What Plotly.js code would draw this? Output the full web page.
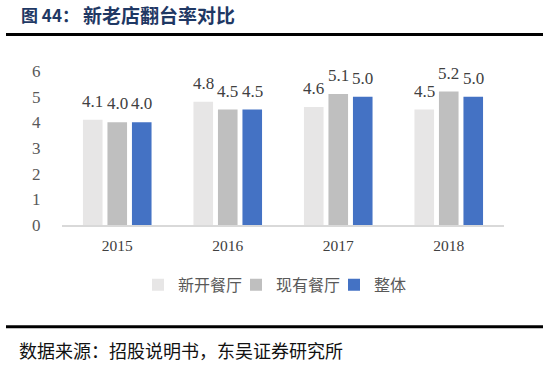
<!DOCTYPE html>
<html>
<head>
<meta charset="utf-8">
<script src="https://cdn.plot.ly/plotly-3.0.1.min.js"></script>
<style>html,body{margin:0;padding:0;background:#fff;}#chart{width:554px;height:365px;}</style>
</head>
<body>
<div id="chart"></div>
<script>
const years = ['2015', '2016', '2017', '2018'];
const seriesNames = ['新开餐厅', '现有餐厅', '整体'];
const newStores = [4.1, 4.8, 4.6, 4.5];
const existingStores = [4.0, 4.5, 5.1, 5.2];
const overall = [4.0, 4.5, 5.0, 5.0];
const yTicks = [0, 1, 2, 3, 4, 5, 6];
const titlePrefix = '图 44：';
const titleText = '新老店翻台率对比';
const sourceText = '数据来源：招股说明书，东吴证券研究所';

const colors = ['#e7e6e6', '#bfbfbf', '#4472c4'];
const allSeries = [newStores, existingStores, overall];
const serif = 'Liberation Serif, Times New Roman, serif';
const cjk = 'Noto Sans CJK SC, sans-serif';

const traces = allSeries.map((vals, i) => ({
  type: 'bar',
  name: seriesNames[i],
  x: years,
  y: vals,
  marker: {color: colors[i]},
  hoverinfo: 'skip'
}));

// pixel helpers for paper coords
const L = 62, R = 504, T = 70.5, B = 225;
const px = v => (v - L) / (R - L);
const py = v => (B - v) / (B - T);

const shifts = [-24.5, 0, 24.5];
const annotations = [];
allSeries.forEach((vals, i) => {
  vals.forEach((v, j) => {
    annotations.push({
      x: j, y: v, xref: 'x', yref: 'y',
      text: v.toFixed(1), showarrow: false,
      xanchor: 'center', yanchor: 'bottom',
      xshift: shifts[i], yshift: 7,
      font: {family: serif, size: 17, color: '#404040'}
    });
  });
});
annotations.push({
  xref: 'paper', yref: 'paper', x: px(19), y: py(14),
  xanchor: 'left', yanchor: 'middle', showarrow: false,
  text: '<b>' + titlePrefix + '</b>',
  font: {family: cjk, size: 17, color: '#1f3864'}
});
annotations.push({
  xref: 'paper', yref: 'paper', x: px(81), y: py(14),
  xanchor: 'left', yanchor: 'middle', showarrow: false,
  text: '<b>' + titleText + '</b>',
  font: {family: cjk, size: 19, color: '#1f3864'}
});
annotations.push({
  xref: 'paper', yref: 'paper', x: px(17), y: py(350),
  xanchor: 'left', yanchor: 'middle', showarrow: false,
  text: sourceText,
  font: {family: cjk, size: 18, color: '#111111'}
});

const layout = {
  width: 554, height: 365,
  margin: {l: L, r: 554 - R, t: T, b: 365 - B, pad: 0},
  paper_bgcolor: '#ffffff', plot_bgcolor: '#ffffff',
  barmode: 'group', bargap: 0.335, bargroupgap: 0.2,
  showlegend: true,
  legend: {
    orientation: 'h', x: px(138), xanchor: 'left',
    y: py(285), yanchor: 'middle',
    entrywidth: 53, entrywidthmode: 'pixels',
    font: {family: cjk, size: 16, color: '#595959'},
    traceorder: 'normal'
  },
  xaxis: {
    type: 'category', showgrid: false, zeroline: false,
    showline: true, linecolor: '#d9d9d9', linewidth: 1.5,
    ticks: 'outside', ticklen: 6, tickcolor: 'rgba(0,0,0,0)',
    tickfont: {family: serif, size: 15.5, color: '#404040'}
  },
  yaxis: {
    range: [0, 6], tickvals: yTicks, ticktext: yTicks.map(String),
    showgrid: false, zeroline: false, showline: false,
    ticks: 'outside', ticklen: 17, tickcolor: 'rgba(0,0,0,0)',
    tickfont: {family: serif, size: 17, color: '#595959'}
  },
  shapes: [
    {type: 'line', xref: 'paper', yref: 'paper', x0: px(6), x1: px(543), y0: py(34), y1: py(34), line: {color: '#000', width: 3}},
    {type: 'line', xref: 'paper', yref: 'paper', x0: px(6), x1: px(543), y0: py(327), y1: py(327), line: {color: '#000', width: 3}}
  ],
  annotations: annotations
};

Plotly.newPlot('chart', traces, layout, {displayModeBar: false, staticPlot: true});
</script>
</body>
</html>
